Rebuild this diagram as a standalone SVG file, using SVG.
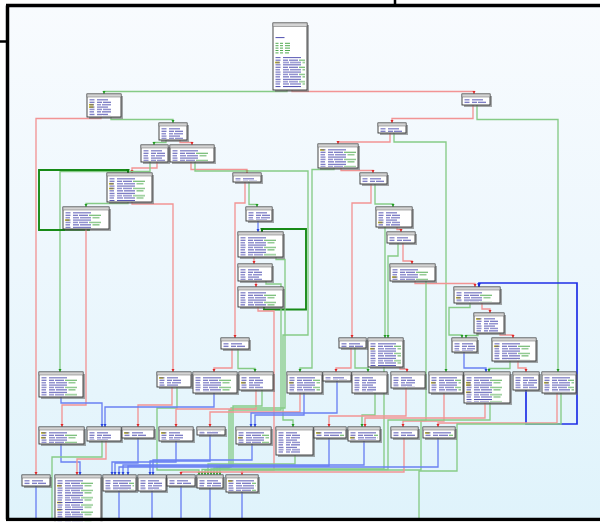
<svg xmlns="http://www.w3.org/2000/svg" width="600" height="523" viewBox="0 0 600 523">
<defs>
  <linearGradient id="bg" x1="0" y1="0" x2="0" y2="1">
    <stop offset="0" stop-color="#f8fbfe"/>
    <stop offset="0.5" stop-color="#edf7fd"/>
    <stop offset="1" stop-color="#dff3fb"/>
  </linearGradient>
  <!-- instruction rows: mnemonic + operands -->
  <pattern id="tx" x="2" width="48" height="7.2" patternUnits="userSpaceOnUse">
    <path d="M0.5 1.1h5M8 1.1h5m1 0h8M0.5 3.5h4.5M8 3.5h4m1 0h9M0.5 5.9h5M8 5.9h11" stroke="#3a3aa6" stroke-width=".9" fill="none"/>
  </pattern>
  <pattern id="tw" x="2" width="60" height="7.2" patternUnits="userSpaceOnUse">
    <path d="M0.5 1.1h5M8 1.1h5m1 0h9M0.5 3.5h4.5M8 3.5h6m1 0h11M0.5 5.9h5M8 5.9h18" stroke="#3a3aa6" stroke-width=".9" fill="none"/>
    <path d="M24 1.1h12M27.5 3.5h7" stroke="#3da03d" stroke-width=".9" fill="none"/>
  </pattern>
  <marker id="mr" viewBox="0 0 4 4" refX="4" refY="2" markerWidth="3.4" markerHeight="3.4" markerUnits="userSpaceOnUse" orient="auto"><path d="M0 0L4 2L0 4z" fill="#e02828"/></marker>
  <marker id="mg" viewBox="0 0 4 4" refX="4" refY="2" markerWidth="3.4" markerHeight="3.4" markerUnits="userSpaceOnUse" orient="auto"><path d="M0 0L4 2L0 4z" fill="#219a21"/></marker>
  <marker id="mb" viewBox="0 0 4 4" refX="4" refY="2" markerWidth="3.4" markerHeight="3.4" markerUnits="userSpaceOnUse" orient="auto"><path d="M0 0L4 2L0 4z" fill="#2a46e0"/></marker>
  <marker id="mdg" viewBox="0 0 4 4" refX="4" refY="2" markerWidth="3.8" markerHeight="3.8" markerUnits="userSpaceOnUse" orient="auto"><path d="M0 0L4 2L0 4z" fill="#0f7a0f"/></marker>
  <marker id="mbb" viewBox="0 0 4 4" refX="4" refY="2" markerWidth="3.8" markerHeight="3.8" markerUnits="userSpaceOnUse" orient="auto"><path d="M0 0L4 2L0 4z" fill="#1526d8"/></marker>
</defs>
<style>
  .sh{fill:#6e6e6e;opacity:.6}
  .bx{fill:#fff;stroke:#333;stroke-width:.9}
  .hd{fill:#d4d4d4;stroke:#666;stroke-width:.5}
  .tx{fill:url(#tx)}
  .tw{fill:url(#tw)}
  .hl{fill:#e6d600}
  .lb{stroke:#3a3aa6;stroke-width:.9;fill:none}
  .cm{stroke:#3da03d;stroke-width:.9;fill:none}
  #edges path{fill:none}
  .r{stroke:#f29494;stroke-width:1.35;marker-end:url(#mr)}
  .g{stroke:#86cb86;stroke-width:1.35;marker-end:url(#mg)}
  .b{stroke:#6a80f2;stroke-width:1.35;marker-end:url(#mb)}
  .dg{stroke:#178a17;stroke-width:1.9;marker-end:url(#mdg)}
  .bb{stroke:#1f2fe6;stroke-width:1.7;marker-end:url(#mbb)}
  .rx{stroke:#f29494;stroke-width:1.35}
  .gx{stroke:#86cb86;stroke-width:1.35}
  .bx2{stroke:#6a80f2;stroke-width:1.35}
</style>

<rect width="600" height="523" fill="#fff"/>
<rect x="7" y="5" width="593" height="515" fill="url(#bg)"/>

<g id="edges">
  <!-- entry block -->
  <path class="g" d="M287 90V91.5H104V94"/>
  <path class="r" d="M292 90V91.5H474V94"/>
  <path class="r" d="M101 117V118.5H36V475"/>
  <path class="g" d="M111 117V119.5H173V123"/>
  <path class="r" d="M473 105V118.5H392V123"/>
  <path class="g" d="M477 105V119.5H558V372"/>
  <!-- left branch -->
  <path class="g" d="M166 140V142.5H154V145"/>
  <path class="r" d="M180 140V142.5H192V145"/>
  <path class="r" d="M157 162V168H132V173"/>
  <path class="g" d="M150 162V171.5H60V372"/>
  <path class="r" d="M191 162V169.5H247V173"/>
  <path class="g" d="M195 162V171H308V335H283V420H293V427"/>
  <path class="r" d="M132 202V204H173V372"/>
  <path class="g" d="M128 202V203.5H86V207"/>
  <path class="dg" d="M89 229V230H39V170H128V173"/>
  <path class="r" d="M86 229V405H62V427"/>
  <!-- middle column -->
  <path class="g" d="M249 182V204.5H257V207"/>
  <path class="r" d="M245 182V203H235V338"/>
  <path class="b" d="M258 221V232"/>
  <path class="dg" d="M264 307V309.5H306V229H262V232"/>
  <path class="r" d="M254 257V264"/>
  <path class="g" d="M276 257V259.5H285V408H231V467H217V475"/>
  <path class="r" d="M256 281V287"/>
  <path class="g" d="M266 281V284H281V410H229V468H214V475"/>
  <path class="r" d="M258 307V311H274V470H242V475"/>
  <path class="r" d="M232 349V368H214V372"/>
  <path class="g" d="M238 349V368.5H255V372"/>
  <!-- right branch -->
  <path class="r" d="M390 133V142H338V144"/>
  <path class="g" d="M394 133V142H446V372"/>
  <path class="r" d="M341 168V170.5H373V173"/>
  <path class="g" d="M334 168V169.5H312V368H300V372"/>
  <path class="r" d="M371 184V203H352V338"/>
  <path class="g" d="M375 184V204H393V207"/>
  <path class="g" d="M385 227V338"/>
  <path class="r" d="M397 227V229.5H401V232"/>
  <path class="g" d="M398 243V256H388V338"/>
  <path class="r" d="M403 243V261H412V264"/>
  <path class="r" d="M415 281V283.5H475V287"/>
  <path class="g" d="M426 281V420.5H421V470H205V475"/>
  <path class="g" d="M470 303V307.5H449V335H462V338"/>
  <path class="r" d="M482 303V309H490V313"/>
  <path class="g" d="M478 333V335.5H466V338"/>
  <path class="r" d="M500 333V335H513V338"/>
  <path class="b" d="M464 352V368H486V372"/>
  <path class="g" d="M510 361V368.5H489V372"/>
  <path class="r" d="M518 361V368H526V372"/>
  <path class="bb" d="M526 390V424H577V283H479V287"/>
  <path class="r" d="M557 393V423H438V427"/>
  <path class="gx" d="M561 393V424H457V471H419V519"/>
  <path class="r" d="M351 348V368H336V372"/>
  <path class="g" d="M355 348V368H368V372"/>
  <path class="r" d="M400 367V369H407V372"/>
  <path class="g" d="M384 367V469H211V475"/>
  <!-- row of blocks at y 372 -->
  <path class="b" d="M61 397V403H102V427"/>
  <path class="r" d="M172 387V405H138V427"/>
  <path class="g" d="M177 387V408H157V470H199V475"/>
  <path class="b" d="M214 393V407H105V427"/>
  <path class="r" d="M256 390V409H176V427"/>
  <path class="g" d="M262 390V406H233V466H220V475"/>
  <path class="r" d="M300 393V412H210V427"/>
  <path class="b" d="M304 393V415H255V427"/>
  <path class="b" d="M337 381V413H251V427"/>
  <path class="g" d="M375 393V415H362V427"/>
  <path class="r" d="M406 388V416H329V427"/>
  <path class="r" d="M444 393V421H403V427"/>
  <path class="r" d="M485 403V418H365V427"/>
  <path class="g" d="M490 403V420H388V469.5H202V475"/>
  <!-- row of blocks at y 427 -->
  <path class="b" d="M61 444V462H80V475"/>
  <path class="r" d="M106 441V459H77V475"/>
  <path class="gx" d="M102 441V457H52V519"/>
  <path class="b" d="M138 438V463H115V475"/>
  <path class="b" d="M176 441V462H112V475"/>
  <path class="b" d="M210 435V461H150V475"/>
  <path class="b" d="M252 444V460H153V475"/>
  <path class="g" d="M295 455V464H208V475"/>
  <path class="b" d="M329 438V466H128V475"/>
  <path class="b" d="M364 441V465H123V475"/>
  <path class="r" d="M404 438V472H181V475"/>
  <path class="b" d="M438 438V467H119V475"/>
  <!-- exits below the bottom row -->
  <path class="bx2" d="M36 486V519M119 491V519M152 491V519M181 486V519M210 488V519M242 492V519"/>
</g>

<g id="nodes">
  <g id="n_entry" transform="translate(273 23)">
    <rect class="sh" x="2" y="2" width="34" height="67"/><rect class="bx" width="34" height="67"/><rect class="hd" width="34" height="3.5"/>
    <path class="lb" d="M2.5 14.6h9"/>
    <path class="cm" d="M2.5 20.3h3m1.5 0h3m2 0h5M2.5 22.7h3m1.5 0h3m2 0h5M2.5 25.1h3m1.5 0h3m2 0h5M2.5 27.5h3m1.5 0h3m2 0h5M2.5 29.9h3m1.5 0h3m2 0h4"/>
    <rect class="hl" x="2" y="38.7" width="4.5" height="1.6"/>
    <rect class="tw" x="2" y="34" width="30" height="31"/>
  </g>
  <g id="n_A" transform="translate(87 94)"><rect class="sh" x="2" y="2" width="34" height="23"/><rect class="bx" width="34" height="23"/><rect class="hd" width="34" height="3"/><rect class="hl" x="2" y="9.9" width="4.5" height="1.6"/><rect class="hl" x="2" y="12.3" width="4.5" height="1.6"/><rect class="tx" x="2" y="5" width="30" height="17"/></g>
  <g id="n_S" transform="translate(462 94)"><rect class="sh" x="2" y="2" width="28" height="11"/><rect class="bx" width="28" height="11"/><rect class="hd" width="28" height="3"/><rect class="tx" x="2" y="5" width="24" height="5"/></g>
  <g id="n_B" transform="translate(159 123)"><rect class="sh" x="2" y="2" width="28" height="17"/><rect class="bx" width="28" height="17"/><rect class="hd" width="28" height="3"/><rect class="tx" x="2" y="5" width="24" height="11"/></g>
  <g id="n_R" transform="translate(378 123)"><rect class="sh" x="2" y="2" width="28" height="10"/><rect class="bx" width="28" height="10"/><rect class="hd" width="28" height="3"/><rect class="tx" x="2" y="5" width="24" height="4"/></g>
  <g id="n_C" transform="translate(141 145)"><rect class="sh" x="2" y="2" width="27" height="17"/><rect class="bx" width="27" height="17"/><rect class="hd" width="27" height="3"/><rect class="tx" x="2" y="5" width="23" height="11"/></g>
  <g id="n_D" transform="translate(170 145)"><rect class="sh" x="2" y="2" width="44" height="17"/><rect class="bx" width="44" height="17"/><rect class="hd" width="44" height="3"/><rect class="tw" x="2" y="5" width="40" height="11"/></g>
  <g id="n_U" transform="translate(318 144)"><rect class="sh" x="2" y="2" width="40" height="24"/><rect class="bx" width="40" height="24"/><rect class="hd" width="40" height="3"/><rect class="hl" x="2" y="5.1" width="4.5" height="1.6"/><rect class="tw" x="2" y="5" width="36" height="18"/></g>
  <g id="n_E" transform="translate(107 173)"><rect class="sh" x="2" y="2" width="45" height="29"/><rect class="bx" width="45" height="29"/><rect class="hd" width="45" height="3"/><rect class="hl" x="2" y="9.9" width="4.5" height="1.6"/><rect class="hl" x="2" y="14.7" width="4.5" height="1.6"/><rect class="tw" x="2" y="5" width="41" height="23"/></g>
  <g id="n_G" transform="translate(233 173)"><rect class="sh" x="2" y="2" width="28" height="9"/><rect class="bx" width="28" height="9"/><rect class="hd" width="28" height="3"/><rect class="tx" x="2" y="5" width="24" height="3"/></g>
  <g id="n_V" transform="translate(360 173)"><rect class="sh" x="2" y="2" width="27" height="11"/><rect class="bx" width="27" height="11"/><rect class="hd" width="27" height="3"/><rect class="tx" x="2" y="5" width="23" height="5"/></g>
  <g id="n_F" transform="translate(63 207)"><rect class="sh" x="2" y="2" width="46" height="22"/><rect class="bx" width="46" height="22"/><rect class="hd" width="46" height="3"/><rect class="hl" x="2" y="12.3" width="4.5" height="1.6"/><rect class="tw" x="2" y="5" width="42" height="16"/></g>
  <g id="n_H" transform="translate(246 207)"><rect class="sh" x="2" y="2" width="26" height="14"/><rect class="bx" width="26" height="14"/><rect class="hd" width="26" height="3"/><rect class="tx" x="2" y="5" width="22" height="8"/></g>
  <g id="n_X" transform="translate(376 207)"><rect class="sh" x="2" y="2" width="36" height="20"/><rect class="bx" width="36" height="20"/><rect class="hd" width="36" height="3"/><rect class="hl" x="2" y="14.7" width="4.5" height="1.6"/><rect class="tx" x="2" y="5" width="32" height="14"/></g>
  <g id="n_I" transform="translate(238 232)"><rect class="sh" x="2" y="2" width="45" height="25"/><rect class="bx" width="45" height="25"/><rect class="hd" width="45" height="3"/><rect class="tw" x="2" y="5" width="41" height="19"/></g>
  <g id="n_Y" transform="translate(387 232)"><rect class="sh" x="2" y="2" width="28" height="11"/><rect class="bx" width="28" height="11"/><rect class="hd" width="28" height="3"/><rect class="tx" x="2" y="5" width="24" height="5"/></g>
  <g id="n_J" transform="translate(238 264)"><rect class="sh" x="2" y="2" width="34" height="17"/><rect class="bx" width="34" height="17"/><rect class="hd" width="34" height="3"/><rect class="tx" x="2" y="5" width="30" height="11"/></g>
  <g id="n_AA" transform="translate(390 264)"><rect class="sh" x="2" y="2" width="45" height="17"/><rect class="bx" width="45" height="17"/><rect class="hd" width="45" height="3"/><rect class="hl" x="2" y="12.3" width="4.5" height="1.6"/><rect class="tw" x="2" y="5" width="41" height="11"/></g>
  <g id="n_K" transform="translate(238 287)"><rect class="sh" x="2" y="2" width="45" height="20"/><rect class="bx" width="45" height="20"/><rect class="hd" width="45" height="3"/><rect class="tw" x="2" y="5" width="41" height="14"/></g>
  <g id="n_DD" transform="translate(454 287)"><rect class="sh" x="2" y="2" width="46" height="16"/><rect class="bx" width="46" height="16"/><rect class="hd" width="46" height="3"/><rect class="hl" x="2" y="9.9" width="4.5" height="1.6"/><rect class="tw" x="2" y="5" width="42" height="10"/></g>
  <g id="n_GG" transform="translate(474 313)"><rect class="sh" x="2" y="2" width="30" height="20"/><rect class="bx" width="30" height="20"/><rect class="hd" width="30" height="3"/><rect class="hl" x="2" y="5.1" width="4.5" height="1.6"/><rect class="tx" x="2" y="5" width="26" height="14"/></g>
  <g id="n_L" transform="translate(221 338)"><rect class="sh" x="2" y="2" width="28" height="11"/><rect class="bx" width="28" height="11"/><rect class="hd" width="28" height="3"/><rect class="tx" x="2" y="5" width="24" height="5"/></g>
  <g id="n_Z" transform="translate(339 338)"><rect class="sh" x="2" y="2" width="27" height="10"/><rect class="bx" width="27" height="10"/><rect class="hd" width="27" height="3"/><rect class="tx" x="2" y="5" width="23" height="4"/></g>
  <g id="n_W" transform="translate(368 338)"><rect class="sh" x="2" y="2" width="35" height="29"/><rect class="bx" width="35" height="29"/><rect class="hd" width="35" height="3"/><rect class="hl" x="2" y="9.9" width="4.5" height="1.6"/><rect class="tw" x="2" y="5" width="31" height="23"/></g>
  <g id="n_FF" transform="translate(452 338)"><rect class="sh" x="2" y="2" width="25" height="14"/><rect class="bx" width="25" height="14"/><rect class="hd" width="25" height="3"/><rect class="tx" x="2" y="5" width="21" height="8"/></g>
  <g id="n_HH" transform="translate(492 338)"><rect class="sh" x="2" y="2" width="44" height="23"/><rect class="bx" width="44" height="23"/><rect class="hd" width="44" height="3"/><rect class="hl" x="2" y="7.5" width="4.5" height="1.6"/><rect class="tw" x="2" y="5" width="40" height="17"/></g>
  <g id="n_M" transform="translate(39 372)"><rect class="sh" x="2" y="2" width="44" height="25"/><rect class="bx" width="44" height="25"/><rect class="hd" width="44" height="3"/><rect class="tw" x="2" y="5" width="40" height="19"/></g>
  <g id="n_N" transform="translate(157 372)"><rect class="sh" x="2" y="2" width="34" height="15"/><rect class="bx" width="34" height="15"/><rect class="hd" width="34" height="3"/><rect class="hl" x="2" y="5.1" width="4.5" height="1.6"/><rect class="tx" x="2" y="5" width="30" height="9"/></g>
  <g id="n_O" transform="translate(193 372)"><rect class="sh" x="2" y="2" width="44" height="21"/><rect class="bx" width="44" height="21"/><rect class="hd" width="44" height="3"/><rect class="tw" x="2" y="5" width="40" height="15"/></g>
  <g id="n_P" transform="translate(239 372)"><rect class="sh" x="2" y="2" width="34" height="18"/><rect class="bx" width="34" height="18"/><rect class="hd" width="34" height="3"/><rect class="hl" x="2" y="9.9" width="4.5" height="1.6"/><rect class="tx" x="2" y="5" width="30" height="12"/></g>
  <g id="n_Q" transform="translate(287 372)"><rect class="sh" x="2" y="2" width="35" height="21"/><rect class="bx" width="35" height="21"/><rect class="hd" width="35" height="3"/><rect class="hl" x="2" y="9.9" width="4.5" height="1.6"/><rect class="tw" x="2" y="5" width="31" height="15"/></g>
  <g id="n_JJ" transform="translate(323 372)"><rect class="sh" x="2" y="2" width="28" height="9"/><rect class="bx" width="28" height="9"/><rect class="hd" width="28" height="3"/><rect class="tx" x="2" y="5" width="24" height="3"/></g>
  <g id="n_KK" transform="translate(352 372)"><rect class="sh" x="2" y="2" width="35" height="21"/><rect class="bx" width="35" height="21"/><rect class="hd" width="35" height="3"/><rect class="tx" x="2" y="5" width="31" height="15"/></g>
  <g id="n_LL" transform="translate(391 372)"><rect class="sh" x="2" y="2" width="34" height="16"/><rect class="bx" width="34" height="16"/><rect class="hd" width="34" height="3"/><rect class="tx" x="2" y="5" width="30" height="10"/></g>
  <g id="n_BB" transform="translate(429 372)"><rect class="sh" x="2" y="2" width="34" height="21"/><rect class="bx" width="34" height="21"/><rect class="hd" width="34" height="3"/><rect class="hl" x="2" y="9.9" width="4.5" height="1.6"/><rect class="tw" x="2" y="5" width="30" height="15"/></g>
  <g id="n_II" transform="translate(464 372)"><rect class="sh" x="2" y="2" width="46" height="31"/><rect class="bx" width="46" height="31"/><rect class="hd" width="46" height="3"/><rect class="hl" x="2" y="9.9" width="4.5" height="1.6"/><rect class="hl" x="2" y="12.3" width="4.5" height="1.6"/><rect class="hl" x="2" y="19.5" width="4.5" height="1.6"/><rect class="tw" x="2" y="5" width="42" height="25"/></g>
  <g id="n_EE" transform="translate(513 372)"><rect class="sh" x="2" y="2" width="26" height="18"/><rect class="bx" width="26" height="18"/><rect class="hd" width="26" height="3"/><rect class="tx" x="2" y="5" width="22" height="12"/></g>
  <g id="n_CC" transform="translate(542 372)"><rect class="sh" x="2" y="2" width="34" height="21"/><rect class="bx" width="34" height="21"/><rect class="hd" width="34" height="3"/><rect class="hl" x="2" y="9.9" width="4.5" height="1.6"/><rect class="tw" x="2" y="5" width="30" height="15"/></g>
  <g id="n_R1" transform="translate(39 427)"><rect class="sh" x="2" y="2" width="45" height="17"/><rect class="bx" width="45" height="17"/><rect class="hd" width="45" height="3"/><rect class="hl" x="2" y="5.1" width="4.5" height="1.6"/><rect class="hl" x="2" y="9.9" width="4.5" height="1.6"/><rect class="tw" x="2" y="5" width="41" height="11"/></g>
  <g id="n_R2" transform="translate(87 427)"><rect class="sh" x="2" y="2" width="34" height="14"/><rect class="bx" width="34" height="14"/><rect class="hd" width="34" height="3"/><rect class="tx" x="2" y="5" width="30" height="8"/></g>
  <g id="n_R3" transform="translate(122 427)"><rect class="sh" x="2" y="2" width="32" height="11"/><rect class="bx" width="32" height="11"/><rect class="hd" width="32" height="3"/><rect class="hl" x="2" y="5.1" width="4.5" height="1.6"/><rect class="tx" x="2" y="5" width="28" height="5"/></g>
  <g id="n_R4" transform="translate(159 427)"><rect class="sh" x="2" y="2" width="34" height="14"/><rect class="bx" width="34" height="14"/><rect class="hd" width="34" height="3"/><rect class="hl" x="2" y="5.1" width="4.5" height="1.6"/><rect class="tx" x="2" y="5" width="30" height="8"/></g>
  <g id="n_R5" transform="translate(197 427)"><rect class="sh" x="2" y="2" width="28" height="8"/><rect class="bx" width="28" height="8"/><rect class="hd" width="28" height="3"/><rect class="tx" x="2" y="4.5" width="24" height="3"/></g>
  <g id="n_R6" transform="translate(236 427)"><rect class="sh" x="2" y="2" width="35" height="17"/><rect class="bx" width="35" height="17"/><rect class="hd" width="35" height="3"/><rect class="hl" x="2" y="9.9" width="4.5" height="1.6"/><rect class="tw" x="2" y="5" width="31" height="11"/></g>
  <g id="n_R7" transform="translate(276 427)"><rect class="sh" x="2" y="2" width="37" height="28"/><rect class="bx" width="37" height="28"/><rect class="hd" width="37" height="3"/><rect class="tx" x="2" y="5" width="33" height="22"/></g>
  <g id="n_R8" transform="translate(314 427)"><rect class="sh" x="2" y="2" width="32" height="11"/><rect class="bx" width="32" height="11"/><rect class="hd" width="32" height="3"/><rect class="hl" x="2" y="5.1" width="4.5" height="1.6"/><rect class="tw" x="2" y="5" width="28" height="5"/></g>
  <g id="n_R9" transform="translate(348 427)"><rect class="sh" x="2" y="2" width="32" height="14"/><rect class="bx" width="32" height="14"/><rect class="hd" width="32" height="3"/><rect class="hl" x="2" y="9.9" width="4.5" height="1.6"/><rect class="tw" x="2" y="5" width="28" height="8"/></g>
  <g id="n_R10" transform="translate(391 427)"><rect class="sh" x="2" y="2" width="27" height="11"/><rect class="bx" width="27" height="11"/><rect class="hd" width="27" height="3"/><rect class="tx" x="2" y="5" width="23" height="5"/></g>
  <g id="n_R11" transform="translate(423 427)"><rect class="sh" x="2" y="2" width="32" height="11"/><rect class="bx" width="32" height="11"/><rect class="hd" width="32" height="3"/><rect class="hl" x="2" y="5.1" width="4.5" height="1.6"/><rect class="tw" x="2" y="5" width="28" height="5"/></g>
  <g id="n_S1" transform="translate(22 475)"><rect class="sh" x="2" y="2" width="28" height="11"/><rect class="bx" width="28" height="11"/><rect class="hd" width="28" height="3"/><rect class="tx" x="2" y="5" width="24" height="5"/></g>
  <g id="n_S2" transform="translate(55 475)"><rect class="sh" x="2" y="2" width="46" height="48"/><rect class="bx" width="46" height="48"/><rect class="hd" width="46" height="3"/><rect class="hl" x="2" y="9.9" width="4.5" height="1.6"/><rect class="hl" x="2" y="26.7" width="4.5" height="1.6"/><rect class="hl" x="2" y="33.9" width="4.5" height="1.6"/><rect class="tw" x="2" y="5" width="42" height="42"/></g>
  <g id="n_S3" transform="translate(103 475)"><rect class="sh" x="2" y="2" width="33" height="16"/><rect class="bx" width="33" height="16"/><rect class="hd" width="33" height="3"/><rect class="tw" x="2" y="5" width="29" height="10"/></g>
  <g id="n_S4" transform="translate(138 475)"><rect class="sh" x="2" y="2" width="28" height="16"/><rect class="bx" width="28" height="16"/><rect class="hd" width="28" height="3"/><rect class="tx" x="2" y="5" width="24" height="10"/></g>
  <g id="n_S5" transform="translate(167 475)"><rect class="sh" x="2" y="2" width="28" height="11"/><rect class="bx" width="28" height="11"/><rect class="hd" width="28" height="3"/><rect class="tx" x="2" y="5" width="24" height="5"/></g>
  <g id="n_S6" transform="translate(197 475)"><rect class="sh" x="2" y="2" width="26" height="13"/><rect class="bx" width="26" height="13"/><rect class="hd" width="26" height="3"/><rect class="tx" x="2" y="5" width="22" height="7"/></g>
  <g id="n_S7" transform="translate(226 475)"><rect class="sh" x="2" y="2" width="32" height="17"/><rect class="bx" width="32" height="17"/><rect class="hd" width="32" height="3"/><rect class="hl" x="2" y="5.1" width="4.5" height="1.6"/><rect class="tw" x="2" y="5" width="28" height="11"/></g>
</g>

<!-- window frame -->
<g id="frame" fill="none" stroke="#000">
  <path d="M7.5 5.5V519.5M6 5.5H600M6 519.5H600" stroke-width="3.5"/>
  <path d="M0 41.5H7.5M395 0V5.5" stroke-width="2.5"/>
</g>
<rect x="0" y="521.3" width="600" height="1.7" fill="#fff"/>
</svg>
